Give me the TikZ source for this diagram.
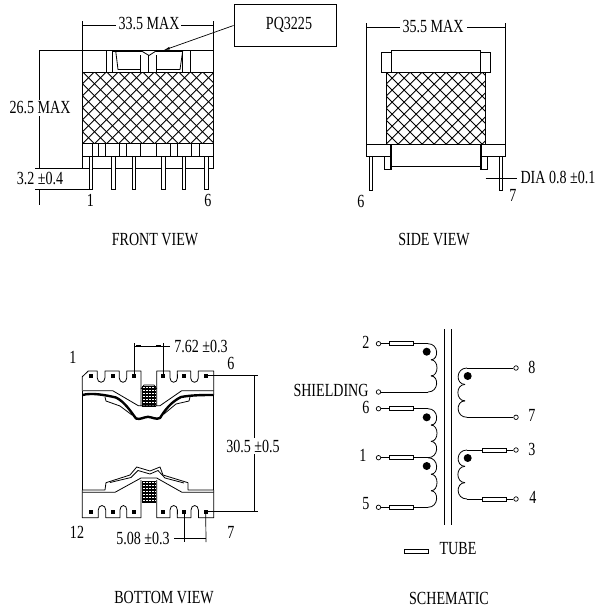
\documentclass[tikz,border=0pt]{standalone}
\usepackage{fontspec}
\usepackage{graphicx}
\setmainfont{Liberation Serif}
\usetikzlibrary{arrows.meta}
\newcommand\tx[1]{\scalebox{.76}[1]{\fontsize{18.5}{20}\selectfont #1}}
\newcommand\crosshatch[5]{%
  \begin{scope}
    \clip (#1,#2) rectangle (#3,#4);
    \pgfmathsetmacro\hh{#4-#2}
    \pgfmathsetmacro\first{#1-\hh}
    \pgfmathsetmacro\second{#1-\hh+#5}
    \foreach \k in {\first,\second,...,#3} {
      \draw[hatchline] (\k,#2) -- ({\k+\hh},#4);
      \draw[hatchline] ({\k+\hh},#2) -- (\k,#4);
    }
  \end{scope}}
\newcommand\densegrid[4]{%
  \begin{scope}
    \clip (#1,#2) rectangle (#3,#4);
    \foreach \k in {0,3,...,24} \draw[finehatch] (#1,{#2+\k}) -- (#3,{#2+\k});
    \foreach \k in {1,4,...,16} \draw[finehatch] ({#1+\k},#2) -- ({#1+\k},#4);
  \end{scope}}
\newcommand\coil[6]{%
  \foreach \i in {1,...,#3} {
    \pgfmathsetmacro\ya{#2+(\i-1)*#4}
    \pgfmathsetmacro\yb{#2+\i*#4}
    \pgfmathsetmacro\xs{\i==1 ? #1 : #6}
    \pgfmathsetmacro\xe{\i==#3 ? #1 : #6}
    \draw[wire] (\xs,\ya) .. controls (#5,\ya) and (#5,\yb) .. (\xe,\yb);
  }}
\tikzset{
  part/.style={draw=black,line width=.8pt},
  wire/.style={draw=black,line width=.8pt},
  dimline/.style={draw=black,line width=.7pt},
  tick/.style={draw=black,line width=1.4pt},
  thickedge/.style={draw=black,line width=2.4pt,line join=round},
  hatchline/.style={draw=black,line width=.85pt},
  finehatch/.style={draw=black,line width=1.3pt},
  lbl/.style={inner sep=0pt,text=black},
  white lbl/.style={lbl,fill=white,inner sep=2pt},
  term/.style={circle,draw=black,line width=.7pt,inner sep=0pt,minimum size=4.5pt,fill=white},
  tube/.style={draw=black,line width=.8pt,fill=white,inner sep=0pt,minimum width=24pt,minimum height=4pt},
  dotmark/.style={circle,fill=black,inner sep=0pt,minimum size=8pt},
  pinmark/.style={rectangle,fill=black,inner sep=0pt,minimum size=3.6pt},
  pqbox/.style={draw=black,line width=.9pt,minimum width=102pt,minimum height=42.5pt,inner sep=0pt},
  leader/.style={draw=black,line width=.7pt,-{Latex[length=7pt,width=2.6pt]}}
}
\begin{document}
\begin{tikzpicture}[x=1pt,y=-1pt]
\useasboundingbox (0,0) rectangle (615,613);
\fill[white] (0,0) rectangle (615,613);

%%%%%%%% FRONT VIEW
\draw[part] (82.3,50.5) rectangle (213.5,72);
\crosshatch{82.3}{72}{213.5}{143.5}{12}
\draw[part] (82.3,72) rectangle (213.5,143.5);
\draw[part] (82.3,143.5) rectangle (213.5,156);
\draw[part] (82.3,156) -- (82.3,168.3) -- (213.5,168.3) -- (213.5,156);
\foreach \x in {92,98.7,105.7,119.7,126.7,140.7,156.3,170,177.3,191,199}
  \draw[part] (\x,143.5) -- (\x,156);
\foreach \x in {106,112.5,182.7,190.5}
  \draw[part] (\x,50.5) -- (\x,72);
\foreach \x in {140.3,148.3,156.3}
  \draw[part] (\x,55) -- (\x,72);
\draw[line width=1.5pt] (112.5,51.2) -- (183,51.2);
\draw[part] (115.7,51) -- (118,69.5) -- (140.3,69.5);
\draw[part] (156.3,69.5) -- (180,69.5) -- (182.7,51);
\draw[part,draw=white] (141.5,51.2) -- (156,51.2);
\draw[part] (141.5,51) -- (149,55.5) -- (156,51);
\foreach \x in {89.5,111.8,132.4,161.8,182.4,204.8}
  \fill[white,draw=black,line width=.8pt] (\x,156) rectangle ({\x+3.3},189.3);
\draw[dimline] (82.3,21) -- (82.3,50);
\draw[dimline] (213.3,21) -- (213.3,50);
\draw[dimline] (82.3,25.5) -- (116,25.5);
\draw[dimline] (181,25.5) -- (213.3,25.5);
\draw[tick] (84,25.5) -- (89,25.5);
\draw[tick] (207,25.5) -- (212,25.5);
\node[lbl] (d335) at (149,24) {\tx{33.5 MAX}};
\node[pqbox] (pq) at (285,25.5) {};
\node[lbl] (pqt) at (289,25) {\tx{PQ3225}};
\coordinate (pqtip) at (163,50.5);
\draw[leader] (pq.west) -- (pqtip);
\draw[dimline] (39.3,50.5) -- (82.3,50.5);
\draw[dimline] (39.3,50.5) -- (39.3,168.3);
\node[white lbl] (d265) at (40,108) {\tx{26.5 MAX}};
\draw[dimline] (35,168.3) -- (82.3,168.3);
\draw[dimline] (35,189.3) -- (89.5,189.3);
\draw[dimline] (39.3,189.3) -- (39.3,204.5);
\node[lbl] (d32) at (40,178.5) {\tx{3.2 ±0.4}};
\node[lbl] (f1) at (90.5,200.5) {\tx{1}};
\node[lbl] (f6) at (208,200.5) {\tx{6}};
\node[lbl] (fv) at (155,240) {\tx{FRONT VIEW}};

%%%%%%%% SIDE VIEW
\crosshatch{386.3}{72}{485.7}{144.3}{12}
\draw[part] (386.3,72) rectangle (485.7,144.3);
\draw[part] (381.3,52) rectangle (391,72);
\draw[part] (480.7,52) rectangle (490.7,72);
\draw[part,fill=white] (391,50.7) rectangle (480.7,72);
\draw[part] (366,144.3) rectangle (391,156);
\draw[part] (480.7,144.3) rectangle (505.7,156);
\draw[part] (384.3,156) -- (384.3,169) -- (391,169) -- (391,156);
\draw[part] (487.5,156) -- (487.5,169) -- (480.7,169) -- (480.7,156);
\draw[part] (391,144.3) rectangle (480.7,166);
\draw[line width=1.6pt] (391,144.3) -- (391,169);
\draw[line width=1.6pt] (480.7,144.3) -- (480.7,169);
\draw[part] (369.3,156) rectangle (372.7,190);
\draw[part] (499.3,156) rectangle (502.7,190);
\draw[dimline] (366,23) -- (366,144);
\draw[dimline] (505.7,23) -- (505.7,144);
\draw[dimline] (366,27.5) -- (400,27.5);
\draw[dimline] (467,27.5) -- (505.7,27.5);
\draw[tick] (368,27.5) -- (373,27.5);
\draw[tick] (498,27.5) -- (503.5,27.5);
\node[lbl] (d355) at (433,27) {\tx{35.5 MAX}};
\draw[dimline] (485.7,178.3) -- (516.5,178.3);
\draw[tick] (491,178.3) -- (497,178.3);
\draw[tick] (503,178.3) -- (508,178.3);
\node[lbl] (dia) at (558,177.5) {\tx{DIA 0.8 ±0.1}};
\node[lbl] (s6) at (361,201) {\tx{6}};
\node[lbl] (s7) at (513,195) {\tx{7}};
\node[lbl] (sv) at (434,240) {\tx{SIDE VIEW}};

%%%%%%%% BOTTOM VIEW
\draw[part,line join=round] (82.3,390.7) -- (82.3,376.7) -- (88.3,371) -- (97.3,371)
  -- (97.3,378) arc[start angle=180,end angle=0,x radius=3.8,y radius=4.3] -- (105,371)
  -- (119.3,371) -- (119.3,378) arc[start angle=180,end angle=0,x radius=3.7,y radius=4.3] -- (126.7,371)
  -- (141,371) -- (141,406) (156.7,406) -- (156.7,371)
  -- (170,371) -- (170,378) arc[start angle=180,end angle=0,x radius=3.7,y radius=4.3] -- (177.3,371)
  -- (190.7,371) -- (190.7,378) arc[start angle=180,end angle=0,x radius=3.8,y radius=4.3] -- (198.3,371)
  -- (213.7,371) -- (213.7,395);
\draw[part] (82.3,390.7) -- (112.7,390.7) -- (138.3,405.7) -- (160,405.7) -- (181.7,390.7) -- (213.7,390.7);
\draw[part] (82.3,390.7) -- (82.3,490);
\draw[part] (213.7,395) -- (213.7,490);
\draw[thickedge] (82.3,395) .. controls (92,392.5) and (105,395) .. (116,397.5)
  .. controls (125,402) and (131,412) .. (136,418.5)
  .. controls (140,420) and (144,417) .. (148,416.8)
  .. controls (152,417) and (156,420) .. (160,418)
  .. controls (165,410) and (171,402) .. (181,397)
  .. controls (192,395) and (203,395) .. (213.7,395);
\draw[part] (105,397) -- (106,401) -- (120,406) -- (132,415);
\draw[part] (190,397) -- (189,401) -- (176,404) -- (164,414);
\densegrid{141.5}{386}{156.2}{406}
\draw[part] (141,389) -- (144,385) -- (154,385) -- (156.7,389);
\foreach \n/\x in {a/90.7,b/112.7,c/134,d/163,e/184,f/205.7} {
  \node[pinmark] (t\n) at (\x,375.7) {};
  \node[pinmark] (u\n) at (\x,511.7) {};
}
\draw[part,line join=round] (82.3,490) -- (105,490) -- (106,482.7) -- (130,475) -- (136.7,467)
  -- (150,471) -- (160,467) -- (163,475) -- (188,482.7) -- (188,490) -- (213.7,490);
\draw[part] (110,482.5) -- (131,477.5) -- (138,470.5) -- (150,474) -- (158,470.5) -- (165,478) -- (184,483);
\draw[part,line join=round] (82.3,492.3) -- (115,492.3) -- (141,478) -- (156.7,478) -- (182,492.3) -- (213.7,492.3);
\draw[part,line join=round] (82.3,490) -- (82.3,517.7) -- (98.3,517.7) -- (98.3,510)
  arc[start angle=180,end angle=0,x radius=3.7,y radius=-4.5] -- (105.7,517.7) -- (120,517.7)
  -- (120,510) arc[start angle=180,end angle=0,x radius=3.4,y radius=-4.5] -- (126.7,517.7)
  -- (141,517.7) -- (141,480) (156.7,480) -- (156.7,517.7) -- (170,517.7)
  -- (170,510) arc[start angle=180,end angle=0,x radius=3.7,y radius=-4.5] -- (177.3,517.7) -- (191,517.7)
  -- (191,510) arc[start angle=180,end angle=0,x radius=3.7,y radius=-4.5] -- (198.4,517.7) -- (213.7,517.7) -- (213.7,490);
\densegrid{141.5}{481}{156.2}{502.5}
\draw[dimline] (uf) -- (258,511.7);
\draw[dimline] (tf) -- (258,375.7);
\draw[dimline] (254,375.7) -- (254,511.7);
\node[white lbl] (d305) at (253,446) {\tx{30.5 ±0.5}};
\draw[dimline] (tc) -- (134,343);
\draw[dimline] (td) -- (163,343);
\draw[dimline] (134,346) -- (170,346);
\draw[tick] (136,346) -- (141,346);
\draw[tick] (156,346) -- (161,346);
\node[lbl] (d762) at (201,346) {\tx{7.62 ±0.3}};
\draw[dimline] (ue) -- (184,542);
\draw[dimline] (uf) -- (206,542);
\draw[dimline] (174,538.3) -- (206,538.3);
\draw[tick] (187,538.3) -- (192,538.3);
\draw[tick] (199,538.3) -- (204,538.3);
\node[lbl] (d508) at (143,538) {\tx{5.08 ±0.3}};
\node[lbl] (b1) at (73,357) {\tx{1}};
\node[lbl] (b6) at (231,363) {\tx{6}};
\node[lbl] (b12) at (77,532) {\tx{12}};
\node[lbl] (b7) at (231,532) {\tx{7}};
\node[lbl] (bv) at (164,598) {\tx{BOTTOM VIEW}};

%%%%%%%% SCHEMATIC
\draw[part] (444.3,329.3) -- (444.3,525);
\draw[part] (451.7,329.3) -- (451.7,525);
\node[term] (T2) at (378.5,343.7) {};
\node[term] (TS) at (378.5,392) {};
\node[term] (T6) at (378.5,408.7) {};
\node[term] (T1) at (378.5,457.7) {};
\node[term] (T5) at (378.5,507.3) {};
\node[term] (T8) at (516,368) {};
\node[term] (T7) at (516,417.3) {};
\node[term] (T3) at (516,450) {};
\node[term] (T4) at (516,499) {};
\coordinate (C2) at (428,343.7);
\coordinate (CS) at (428,392);
\coordinate (C6) at (428,408.7);
\coordinate (C1) at (428,457.7);
\coordinate (C5) at (428,507.3);
\coordinate (C8) at (467,368);
\coordinate (C7) at (467,417.3);
\coordinate (C3) at (467,450);
\coordinate (C4) at (467,499);
\foreach \n in {2,S,6,1,5} \draw[wire] (T\n) -- (C\n);
\foreach \n in {8,7,3,4} \draw[wire] (T\n) -- (C\n);
\coil{428}{343.7}{3}{16.1}{439}{431}
\coil{428}{408.7}{3}{16.33}{439}{431}
\coil{428}{457.7}{3}{16.53}{439}{431}
\coil{467}{368}{3}{16.43}{455.5}{465}
\coil{467}{450}{3}{16.33}{455.5}{465}
\node[tube] (tb2) at (401,343.7) {};
\node[tube] (tb6) at (401,408.7) {};
\node[tube] (tb1) at (401,457.7) {};
\node[tube] (tb5) at (401,507.3) {};
\node[tube] (tb3) at (494,450) {};
\node[tube] (tb4) at (494,499) {};
\node[dotmark] (k1) at (426.7,351.7) {};
\node[dotmark] (k2) at (426.7,417.3) {};
\node[dotmark] (k3) at (426.7,466) {};
\node[dotmark] (k4) at (467.7,376) {};
\node[dotmark] (k5) at (467.7,458) {};
\node[lbl] (l2) at (366,342) {\tx{2}};
\node[lbl] (lS) at (331,390) {\tx{SHIELDING}};
\node[lbl] (l6) at (366,407) {\tx{6}};
\node[lbl] (l1) at (363,455) {\tx{1}};
\node[lbl] (l5) at (366,504) {\tx{5}};
\node[lbl] (l8) at (532,367) {\tx{8}};
\node[lbl] (l7) at (532,415) {\tx{7}};
\node[lbl] (l3) at (532,449) {\tx{3}};
\node[lbl] (l4) at (533,497) {\tx{4}};
\node[tube] (tbl) at (416.3,551.7) {};
\node[lbl] (tubelbl) at (458,549) {\tx{TUBE}};
\node[lbl] (sc) at (449,598) {\tx{SCHEMATIC}};
\end{tikzpicture}
\end{document}
